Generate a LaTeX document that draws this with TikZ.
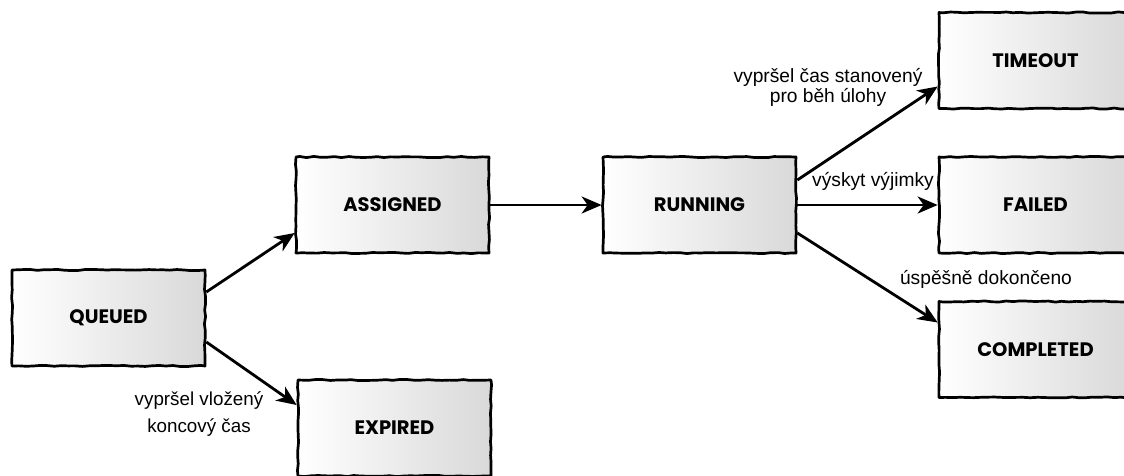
\documentclass[tikz,border=0pt]{standalone}
\usepackage{fontspec}
\setmainfont{Liberation Sans}
\newfontfamily\boxfont{Poppins}
\usetikzlibrary{arrows.meta,decorations.pathmorphing,shadings}
\begin{document}
\pgfmathsetseed{7}
\begin{tikzpicture}[x=1pt,y=-1pt,
  state/.style={minimum width=193pt, minimum height=96pt, inner sep=0pt,
    left color=white, right color=gray!30, draw=black, line width=2.7pt,
    line join=round,
    decorate, decoration={random steps, segment length=7pt, amplitude=0.6pt},
    font=\boxfont\bfseries\fontsize{19.5}{21}\selectfont},
  trans/.style={line width=2.8pt, -{Stealth[length=20pt,width=17pt,inset=6pt]}},
  lbl/.style={font=\fontsize{19.2}{20}\selectfont, align=center, inner sep=0pt}
]
\begin{scope}[shift={(-562,-237.5)}]
\useasboundingbox (0,0) rectangle (1124,475);
\node[state] (Q) at (108.5,318) {QUEUED};
\node[state] (A) at (392.5,205) {ASSIGNED};
\node[state] (E) at (394.5,428) {EXPIRED};
\node[state] (R) at (699.5,205) {RUNNING};
\node[state] (T) at (1035.5,60.5) {TIMEOUT};
\node[state] (F) at (1035.5,205) {FAILED};
\node[state] (C) at (1035.5,349.5) {COMPLETED};

\draw[trans] ([yshift=26pt]Q.east) -- ([yshift=-28pt]A.west);
\draw[trans] ([yshift=-24pt]Q.east) -- ([yshift=23pt]E.west);
\draw[trans] (A.east) -- (R.west);
\draw[trans] ([yshift=25pt]R.east) -- ([yshift=-26pt]T.west);
\draw[trans] (R.east) -- (F.west);
\draw[trans] ([yshift=-28pt]R.east) -- ([yshift=27pt]C.west);

\node[lbl] (l1) at (828,87) {vypršel čas stanovený\\pro běh úlohy};
\node[lbl] (l2) at (873,181) {výskyt výjimky};
\node[lbl] (l3) at (986,279) {úspěšně dokončeno};
\node[lbl, font=\fontsize{18.8}{27}\selectfont] (l4) at (199,414) {vypršel vložený\\koncový čas};
\end{scope}
\end{tikzpicture}
\end{document}
